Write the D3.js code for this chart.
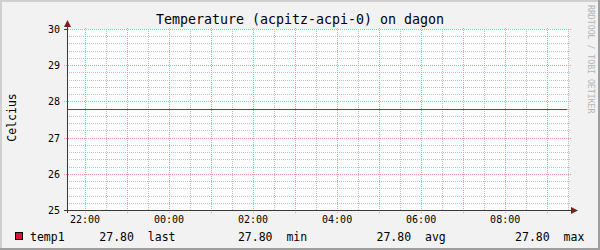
<!DOCTYPE html>
<html>
<head>
<meta charset="utf-8">
<title>Temperature (acpitz-acpi-0) on dagon</title>
<script src="https://cdn.jsdelivr.net/npm/d3@7/dist/d3.min.js"></script>
<style>
  * { margin: 0; padding: 0; }
  body { background: #fff; }
  svg text { font-family: "DejaVu Sans Mono", monospace; }
</style>
</head>
<body>
<div id="chart"></div>
<script>
// data
var times = ["21:35", "22:00", "23:00", "00:00", "01:00", "02:00", "03:00", "04:00",
             "05:00", "06:00", "07:00", "08:00", "09:00", "09:29"];
var temp1 = [27.80, 27.80, 27.80, 27.80, 27.80, 27.80, 27.80, 27.80,
             27.80, 27.80, 27.80, 27.80, 27.80, 27.80];
var yTicks = [25, 26, 27, 28, 29, 30];
var statNames = ["last", "min", "avg", "max"];
var statValues = [27.80, 27.80, 27.80, 27.80];

// "HH:MM" -> date, times before noon belong to the next day
function toDate(s) {
  var p = s.split(":");
  var h = +p[0], m = +p[1];
  return new Date(2010, 0, h < 12 ? 2 : 1, h, m);
}
var dates = times.map(toDate);

var W = 600, H = 250;
var pLeft = 67, pRight = 567, pTop = 29, pBottom = 210;

var svg = d3.select("#chart").append("svg")
    .attr("width", W).attr("height", H);

// background + 3d border
svg.append("rect").attr("width", W).attr("height", H).attr("fill", "#f2f2f2");
svg.append("rect").attr("x", 0).attr("y", 0).attr("width", W).attr("height", 2).attr("fill", "#cfcfcf");
svg.append("rect").attr("x", 0).attr("y", 0).attr("width", 2).attr("height", H).attr("fill", "#cfcfcf");
svg.append("rect").attr("x", 0).attr("y", H - 2).attr("width", W).attr("height", 2).attr("fill", "#9e9e9e");
svg.append("rect").attr("x", W - 2).attr("y", 0).attr("width", 2).attr("height", H).attr("fill", "#9e9e9e");

var x = d3.scaleTime().domain([dates[0], dates[dates.length - 1]]).range([pLeft, pRight]);
var y = d3.scaleLinear().domain([25, 30]).range([pBottom, pTop]);

// canvas
svg.append("rect").attr("x", pLeft).attr("y", pTop)
    .attr("width", pRight - pLeft + 1).attr("height", pBottom - pTop)
    .attr("fill", "#fff");

var grid = svg.append("g").attr("shape-rendering", "crispEdges");

// minor grid
var minorY = d3.range(25, 30.001, 0.2).filter(function(v) { return Math.abs(v - Math.round(v)) > 0.01; });
grid.selectAll(".mny").data(minorY).enter().append("line")
    .attr("x1", pLeft).attr("x2", pRight + 4)
    .attr("y1", function(d) { return Math.round(y(d)) + 0.5; })
    .attr("y2", function(d) { return Math.round(y(d)) + 0.5; })
    .attr("stroke", "#c0c0c0").attr("stroke-dasharray", "1,1");

var halfHours = d3.timeMinute.every(30).range(dates[0], x.invert(pRight + 2))
    .filter(function(d) { return d.getMinutes() === 30; });
grid.selectAll(".mnx").data(halfHours).enter().append("line")
    .attr("x1", function(d) { return Math.round(x(d)) + 0.5; })
    .attr("x2", function(d) { return Math.round(x(d)) + 0.5; })
    .attr("y1", pTop).attr("y2", pBottom)
    .attr("stroke", "#c0c0c0").attr("stroke-dasharray", "1,1");

// major grid
grid.selectAll(".mjy").data(yTicks.slice(1)).enter().append("line")
    .attr("x1", pLeft - 3).attr("x2", pRight + 5)
    .attr("y1", function(d) { return Math.round(y(d)) + 0.5; })
    .attr("y2", function(d) { return Math.round(y(d)) + 0.5; })
    .attr("stroke", "#f09898").attr("stroke-dasharray", "1,1");

var hours = d3.timeHour.range(dates[0], x.invert(pRight));
grid.selectAll(".mjx").data(hours).enter().append("line")
    .attr("x1", function(d) { return Math.round(x(d)) + 0.5; })
    .attr("x2", function(d) { return Math.round(x(d)) + 0.5; })
    .attr("y1", pTop - 1).attr("y2", pBottom + 3)
    .attr("stroke", "#f09898").attr("stroke-dasharray", "1,1");

// data line
var line = d3.line()
    .x(function(d, i) { return x(dates[i]); })
    .y(function(d) { return Math.round(y(d)) + 0.5; });
svg.append("path").datum(temp1)
    .attr("d", line).attr("fill", "none")
    .attr("stroke", "#d2103e").attr("stroke-width", 1)
    .attr("shape-rendering", "crispEdges");

// axes
var ax = svg.append("g").attr("shape-rendering", "crispEdges");
ax.append("line").attr("x1", pLeft - 3).attr("x2", pRight + 5)
    .attr("y1", pBottom + 0.5).attr("y2", pBottom + 0.5).attr("stroke", "#3a3a3a");
ax.append("line").attr("x1", pLeft + 0.5).attr("x2", pLeft + 0.5)
    .attr("y1", pTop - 3).attr("y2", pBottom + 3).attr("stroke", "#3a3a3a");
ax.append("line").attr("x1", pLeft - 3).attr("x2", pLeft)
    .attr("y1", pTop + 0.5).attr("y2", pTop + 0.5).attr("stroke", "#3a3a3a");

svg.append("path")
    .attr("d", "M" + (pLeft - 3) + "," + (pTop - 2) + "L" + (pLeft + 0.5) + "," + (pTop - 9) + "L" + (pLeft + 4) + "," + (pTop - 2) + "Z")
    .attr("fill", "#7f1f1f");
svg.append("path")
    .attr("d", "M" + (pRight + 4) + "," + (pBottom - 3) + "L" + (pRight + 11) + "," + (pBottom + 0.5) + "L" + (pRight + 4) + "," + (pBottom + 4) + "Z")
    .attr("fill", "#7f1f1f");

// y labels
svg.selectAll(".yl").data(yTicks).enter().append("text")
    .attr("x", pLeft - 7).attr("y", function(d) { return y(d) + 4; })
    .attr("text-anchor", "end").attr("font-size", "10px").attr("fill", "#000")
    .text(function(d) { return d; });

// x labels every 2 hours
var labelHours = hours.filter(function(d) { return d.getHours() % 2 === 0; });
svg.selectAll(".xl").data(labelHours).enter().append("text")
    .attr("x", function(d) { return x(d) + 0.5; }).attr("y", 223)
    .attr("text-anchor", "middle").attr("font-size", "10px").attr("fill", "#000")
    .text(d3.timeFormat("%H:%M"));

// title
svg.append("text").attr("x", 300).attr("y", 23.5)
    .attr("text-anchor", "middle").attr("font-size", "13.3px").attr("fill", "#000")
    .text("Temperature (acpitz-acpi-0) on dagon");

// vertical label
svg.append("text").attr("transform", "translate(15.5,117.5) rotate(-90)")
    .attr("text-anchor", "middle").attr("font-size", "11.5px").attr("fill", "#000")
    .text("Celcius");

// watermark
svg.append("text").attr("transform", "translate(588,5) rotate(90)")
    .attr("font-size", "8.2px").attr("fill", "#b5b5b5")
    .text("RRDTOOL / TOBI OETIKER");

// legend
var adv = 6.93, lx = 30, ly = 240.5;
svg.append("rect").attr("x", 15.5).attr("y", 232.5).attr("width", 7).attr("height", 7)
    .attr("fill", "#dc143c").attr("stroke", "#000").attr("shape-rendering", "crispEdges");
svg.append("text").attr("x", lx).attr("y", ly).attr("font-size", "11.5px").text("temp1");
statNames.forEach(function(n, i) {
  svg.append("text").attr("x", lx + (10 + 20 * i) * adv).attr("y", ly)
      .attr("font-size", "11.5px").text(statValues[i].toFixed(2));
  svg.append("text").attr("x", lx + (17 + 20 * i) * adv).attr("y", ly)
      .attr("font-size", "11.5px").text(n);
});
</script>
</body>
</html>
